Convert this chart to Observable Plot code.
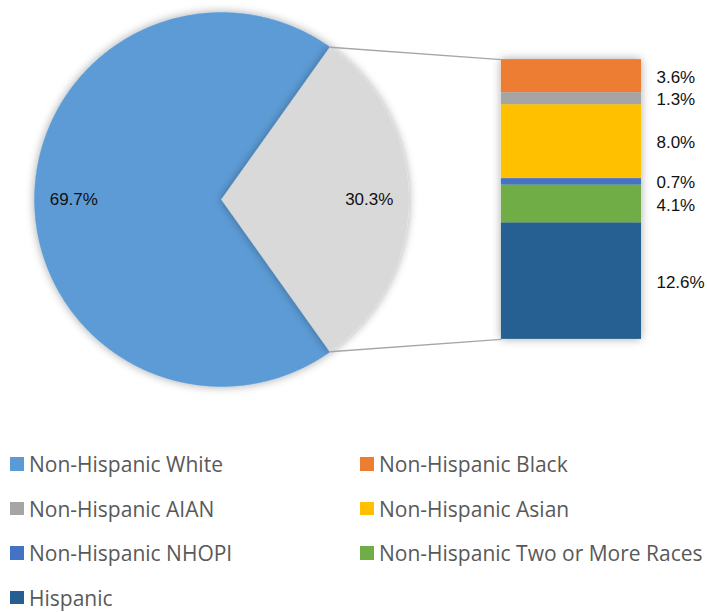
<!DOCTYPE html>
<html>
<head>
<meta charset="utf-8">
<script src="https://cdn.jsdelivr.net/npm/d3@7"></script>
<script src="https://cdn.jsdelivr.net/npm/@observablehq/plot@0.6"></script>
<style>
  html, body { margin: 0; padding: 0; background: #fff; }
  #wrap { position: relative; width: 707px; height: 612px; overflow: hidden; }
  #chart { position: absolute; left: 0; top: 0; }
  .leg { position: absolute; display: flex; align-items: center; height: 24px;
         font-family: "Open Sans", sans-serif; font-size: 21px; color: #595959; white-space: nowrap; }
  .sw { width: 13.5px; height: 13.5px; margin-right: 5.5px; flex: none; }
</style>
</head>
<body>
<div id="wrap"><div id="chart"></div></div>
<script>
// ---- data ----
const pieLabels = ["Non-Hispanic White", "Other"];
const pieValues = [69.7, 30.3];
const pieColors = ["#5B9BD5", "#D9D9D9"];

const barLabels = ["Non-Hispanic Black", "Non-Hispanic AIAN", "Non-Hispanic Asian",
                   "Non-Hispanic NHOPI", "Non-Hispanic Two or More Races", "Hispanic"];
const barValues = [3.6, 1.3, 8.0, 0.7, 4.1, 12.6];
const barColors = ["#ED7D31", "#A5A5A5", "#FFC000", "#4472C4", "#70AD47", "#255E91"];

const legendLabels = ["Non-Hispanic White", "Non-Hispanic Black", "Non-Hispanic AIAN",
                      "Non-Hispanic Asian", "Non-Hispanic NHOPI", "Non-Hispanic Two or More Races", "Hispanic"];
const legendColors = ["#5B9BD5", "#ED7D31", "#A5A5A5", "#FFC000", "#4472C4", "#70AD47", "#255E91"];

// ---- layout (units: pie radius = 1) ----
const W = 707, H = 440, cx = 221, cy = 199, R = 187;
const xDomain = [-cx / R, (W - cx) / R];
const yDomain = [-(H - cy) / R, cy / R];
const barLeft = 1.497, barRight = 2.246, barHalf = 0.748;
const labelX = 2.326;

// pie geometry from values
const total = d3.sum(pieValues);
const otherAngle = 2 * Math.PI * pieValues[1] / total;
const sliceRanges = [
  [otherAngle / 2, 2 * Math.PI - otherAngle / 2],
  [-otherAngle / 2, otherAngle / 2]
];
function slicePoints(a0, a1) {
  const n = Math.max(8, Math.ceil((a1 - a0) / 0.01));
  const pts = [{x: 0, y: 0}];
  for (let i = 0; i <= n; i++) {
    const a = a0 + (a1 - a0) * i / n;
    pts.push({x: Math.cos(a), y: Math.sin(a)});
  }
  pts.push({x: 0, y: 0});
  return pts;
}
const pieLabelData = pieValues.map((v, i) => {
  const mid = (sliceRanges[i][0] + sliceRanges[i][1]) / 2;
  return {x: 0.79 * Math.cos(mid), y: 0.79 * Math.sin(mid), text: v.toFixed(1) + "%"};
});

// stacked bar from values (top to bottom order)
const barTotal = d3.sum(barValues);
const k = 2 * barHalf / barTotal;
let acc = barHalf;
const barData = barValues.map((v, i) => {
  const y2 = acc, y1 = acc - v * k;
  acc = y1;
  return {y1, y2, color: barColors[i], label: barLabels[i], text: v.toFixed(1) + "%", ym: (y1 + y2) / 2};
});

const links = [
  {x1: Math.cos(otherAngle / 2), y1: Math.sin(otherAngle / 2), x2: barLeft, y2: barHalf},
  {x1: Math.cos(otherAngle / 2), y1: -Math.sin(otherAngle / 2), x2: barLeft, y2: -barHalf}
];

const marks = [];
sliceRanges.forEach((r, i) => {
  marks.push(Plot.line(slicePoints(r[0], r[1]), {
    x: "x", y: "y", fill: pieColors[i], stroke: pieColors[i], strokeWidth: 0.5, curve: "linear"
  }));
});
marks.push(Plot.rect(barData, {
  x1: barLeft, x2: barRight, y1: "y1", y2: "y2", fill: "color"
}));
marks.push(Plot.link(links, {x1: "x1", y1: "y1", x2: "x2", y2: "y2", stroke: "#A6A6A6", strokeWidth: 1.5}));
marks.push(Plot.text(pieLabelData, {
  x: "x", y: "y", text: "text", fill: "#111", fontSize: 17, fontFamily: "Liberation Sans, Arial, sans-serif"
}));
marks.push(Plot.text(barData, {
  x: labelX, y: "ym", text: "text", textAnchor: "start", dy: 1, fill: "#111",
  fontSize: 17, fontFamily: "Liberation Sans, Arial, sans-serif"
}));

const svg = Plot.plot({
  width: W, height: H,
  marginLeft: 0, marginRight: 0, marginTop: 0, marginBottom: 0,
  x: {domain: xDomain, axis: null},
  y: {domain: yDomain, axis: null},
  color: {type: "identity"},
  style: {background: "white", overflow: "visible"},
  marks
});
// soft shadow like the original (pie and bar shapes)
const defs = d3.select(svg).insert("defs", ":first-child");
const f = defs.append("filter").attr("id", "sh").attr("x", "-20%").attr("y", "-20%").attr("width", "140%").attr("height", "140%");
f.append("feGaussianBlur").attr("in", "SourceAlpha").attr("stdDeviation", 5).attr("result", "b");
f.append("feComponentTransfer").attr("in", "b").attr("result", "c")
  .append("feFuncA").attr("type", "linear").attr("slope", 0.35);
const m = f.append("feMerge");
m.append("feMergeNode").attr("in", "c");
m.append("feMergeNode").attr("in", "SourceGraphic");
const gs = d3.select(svg).selectAll(":scope > g");
gs.filter((d, i) => i < 3).attr("filter", "url(#sh)");

document.getElementById("chart").appendChild(svg);

// ---- legend ----
const wrap = document.getElementById("wrap");
const rowY = [464, 508.5, 553, 597.5];
const colX = [10, 360];
legendLabels.forEach((lab, i) => {
  const row = Math.floor(i / 2), col = i % 2;
  const d = document.createElement("div");
  d.className = "leg";
  d.style.left = colX[col] + "px";
  d.style.top = (rowY[row] - 12) + "px";
  const sw = document.createElement("span");
  sw.className = "sw";
  sw.style.background = legendColors[i];
  const t = document.createElement("span");
  t.textContent = lab;
  d.appendChild(sw); d.appendChild(t);
  wrap.appendChild(d);
});
</script>
</body>
</html>
